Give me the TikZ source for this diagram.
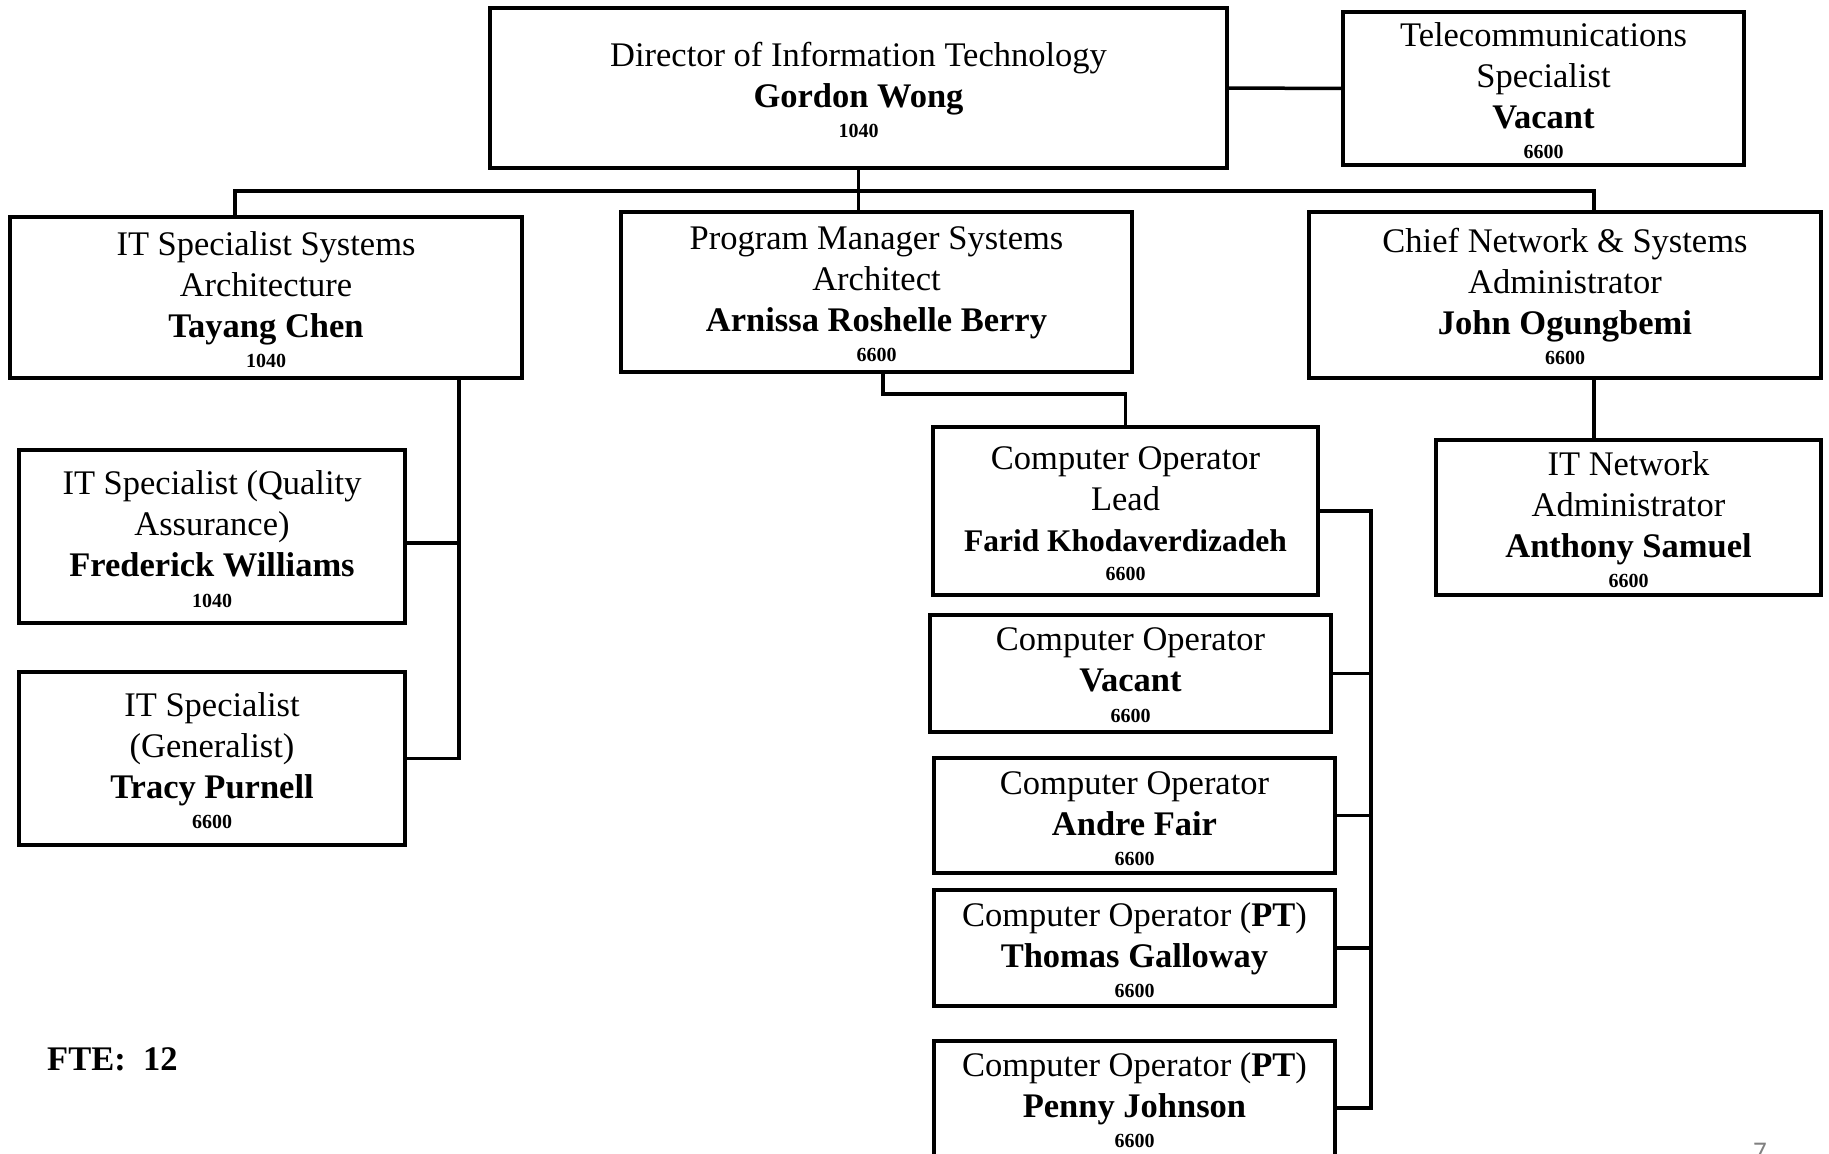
\documentclass[tikz,border=0pt]{standalone}
\usepackage{fontspec}
\setmainfont{Liberation Serif}
\newfontfamily\pagefont{Carlito}
\tikzset{
  bx/.style={draw=black, line width=4.5pt, rectangle, inner sep=0pt, outer sep=0pt},
  txt/.style={anchor=north, inner sep=0pt, outer sep=0pt, align=center, font=\fontsize{34.5}{41}\selectfont},
  cn/.style={draw=black, line width=3.5pt},
}
\newcommand\orgbox[7]{%
  \node[bx, minimum width={#4pt-#2pt}, minimum height={#5pt-#3pt}] (#1) at ({(#2+#4)/2},{(#3+#5)/2}) {};
  \node[txt] (#1-t) at ({(#2+#4)/2},{#6-30}) {\rule{0pt}{30pt}#7};
}
\newcommand\orgnum[1]{{\fontsize{20}{24}\selectfont\bfseries #1}}
\begin{document}
\begin{tikzpicture}[x=1pt,y=-1pt]
\fill[white] (0,0) rectangle (1829,1154);
\useasboundingbox (0,0) rectangle (1829,1154);

\orgbox{dir}{490}{8}{1227}{168}{66}{Director of Information Technology\\ \textbf{Gordon Wong}\\[-11pt] \orgnum{1040}}
\orgbox{tel}{1343}{12}{1744}{165}{46}{Telecommunications\\ Specialist\\ \textbf{Vacant}\\[-11pt] \orgnum{6600}}
\orgbox{ts}{10}{217}{522}{378}{255}{IT Specialist Systems\\ Architecture\\ \textbf{Tayang Chen}\\[-11pt] \orgnum{1040}}
\orgbox{pm}{621}{212}{1132}{372}{249}{Program Manager Systems\\ Architect\\ \textbf{Arnissa Roshelle Berry}\\[-11pt] \orgnum{6600}}
\orgbox{cnw}{1309}{212}{1821}{378}{252}{Chief Network \& Systems\\ Administrator\\ \textbf{John Ogungbemi}\\[-11pt] \orgnum{6600}}
\orgbox{itn}{1436}{440}{1821}{595}{475}{IT Network\\ Administrator\\ \textbf{Anthony Samuel}\\[-11pt] \orgnum{6600}}
\orgbox{lead}{933}{427}{1318}{595}{469}{Computer Operator\\ Lead\\ {\fontsize{31.5}{41}\selectfont\bfseries Farid Khodaverdizadeh}\\[-12pt] \orgnum{6600}}
\orgbox{cov}{930}{615}{1331}{732}{650}{Computer Operator\\ \textbf{Vacant}\\[-10pt] \orgnum{6600}}
\orgbox{af}{934}{758}{1335}{873}{794}{Computer Operator\\ \textbf{Andre Fair}\\[-11pt] \orgnum{6600}}
\orgbox{tg}{934}{890}{1335}{1006}{926}{Computer Operator (\textbf{PT})\\ \textbf{Thomas Galloway}\\[-11pt] \orgnum{6600}}
\orgbox{pj}{934}{1041}{1335}{1175}{1076}{Computer Operator (\textbf{PT})\\ \textbf{Penny Johnson}\\[-11pt] \orgnum{6600}}
\orgbox{fw}{19}{450}{405}{623}{494}{IT Specialist (Quality\\ Assurance)\\ \textbf{Frederick Williams}\\[-10pt] \orgnum{1040}}
\orgbox{tp}{19}{672}{405}{845}{716}{IT Specialist\\ (Generalist)\\ \textbf{Tracy Purnell}\\[-11pt] \orgnum{6600}}

\node[anchor=base west, inner sep=0pt, font=\fontsize{34.5}{41}\selectfont\bfseries] (fte) at (47,1070) {FTE:~~12};
\node[anchor=base, inner sep=0pt, text=black!50, font=\pagefont\fontsize{27}{32}\selectfont] (pg) at (1760,1160) {7};

% connectors
\coordinate (busL) at (235,191);
\coordinate (busR) at (1594,191);
\coordinate (lsp) at (459,0);
\coordinate (rsp) at (1371,0);
\coordinate (pmd) at (883,394);
\coordinate (fwc) at ([yshift=-6.5pt]fw.east);

\draw[cn] (dir.east) -- (tel.west);
\draw[cn] (dir.south) -- (dir.south |- pm.north);
\draw[cn] (busL |- ts.north) -- (busL) -- (busR) -- (busR |- cnw.north);
\draw[cn] (busR |- cnw.south) -- (busR |- itn.north);

\draw[cn] (lsp |- ts.south) -- (lsp |- tp.east) -- (tp.east);
\draw[cn] (fwc) -- (lsp |- fwc);

\draw[cn] (pmd |- pm.south) -- (pmd) -- (pmd -| lead.north) -- (lead.north);
\draw[cn] (lead.east) -- (rsp |- lead.east) -- (rsp |- pj.east) -- (pj.east);
\draw[cn] (cov.east) -- (rsp |- cov.east);
\draw[cn] (af.east) -- (rsp |- af.east);
\draw[cn] (tg.east) -- (rsp |- tg.east);
\end{tikzpicture}
\end{document}
